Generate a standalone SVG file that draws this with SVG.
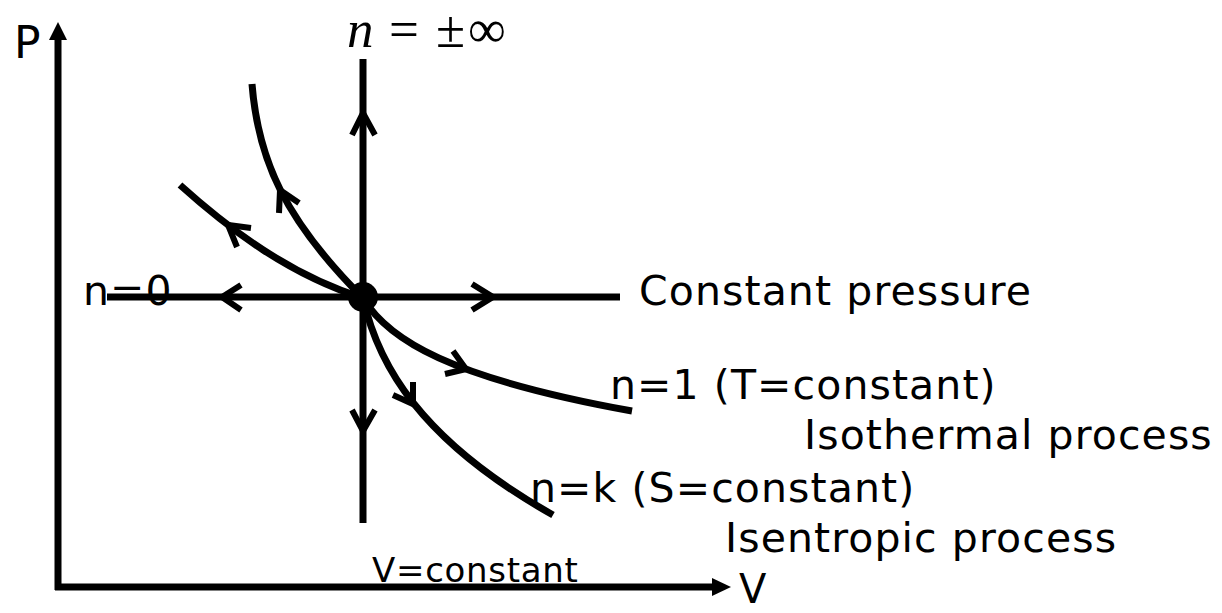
<svg xmlns="http://www.w3.org/2000/svg" width="1222" height="613" viewBox="0 0 1222 613">
<style>
.ln{fill:none;stroke:#000;stroke-width:7;stroke-linecap:butt;stroke-linejoin:miter}
.ch{fill:none;stroke:#000;stroke-width:6;stroke-linecap:butt;stroke-linejoin:miter}
.lbl{font-family:"DejaVu Sans",Verdana,sans-serif;font-size:41px;letter-spacing:1.1px;fill:#000}
.ax{font-family:"DejaVu Sans",Verdana,sans-serif;font-size:44px;fill:#000}
.math{font-family:"Liberation Serif","Times New Roman",serif;font-size:53px;fill:#000}
</style>
<rect width="1222" height="613" fill="#fff"/>
<g id="labels">
<text class="lbl" x="83" y="305">n=0</text>
<text class="lbl" x="639" y="305">Constant pressure</text>
<text class="lbl" x="610" y="399">n=1 (T=constant)</text>
<text class="lbl" x="804" y="449">Isothermal process</text>
<text class="lbl" x="530" y="502">n=k (S=constant)</text>
<text class="lbl" x="725" y="552">Isentropic process</text>
<text class="lbl" x="372" y="582" style="font-size:34px;letter-spacing:0.7px">V=constant</text>
<text class="math" y="47"><tspan x="347" font-style="italic">n</tspan><tspan x="389">=</tspan><tspan x="436">±</tspan><tspan x="468">∞</tspan></text>
</g>
<g id="axes">
<line class="ln" x1="58" y1="36" x2="58" y2="590"/>
<line class="ln" x1="55" y1="587" x2="714" y2="587"/>
<polygon points="58,22 49,40 67,40" fill="#000"/>
<polygon points="731,587 712,578 712,596" fill="#000"/>
<text class="ax" x="14" y="58">P</text>
<text class="ax" x="739" y="603" style="font-size:40px">V</text>
</g>
<g id="connectors">
<line class="ln" x1="107" y1="297" x2="620" y2="297"/>
<line class="ln" x1="363" y1="59" x2="363" y2="523"/>
<path class="ln" d="M252,84 C258,160 285,220 363,298"/>
<path class="ln" d="M363,298 C378,365 420,440 553,515"/>
<path class="ln" d="M180,185 C230,230 290,275 363,298"/>
<path class="ln" d="M363,298 C388,340 450,378 632,411"/>
<polyline class="ch" points="241,285 222,297 241,310"/>
<polyline class="ch" points="472,284 493,297 472,310"/>
<polyline class="ch" points="352,135 363,113 375,135"/>
<polyline class="ch" points="352,410 363,431 375,410"/>
<polyline class="ch" points="279,213 280,190 299,203"/>
<polyline class="ch" points="237,247 228,225 251,228"/>
<polyline class="ch" points="453,351 466,369 445,374"/>
<polyline class="ch" points="393,395 413,404 413,382"/>
</g>
<g id="origin">
<circle cx="363" cy="297" r="15" fill="#000"/>
</g>
</svg>
